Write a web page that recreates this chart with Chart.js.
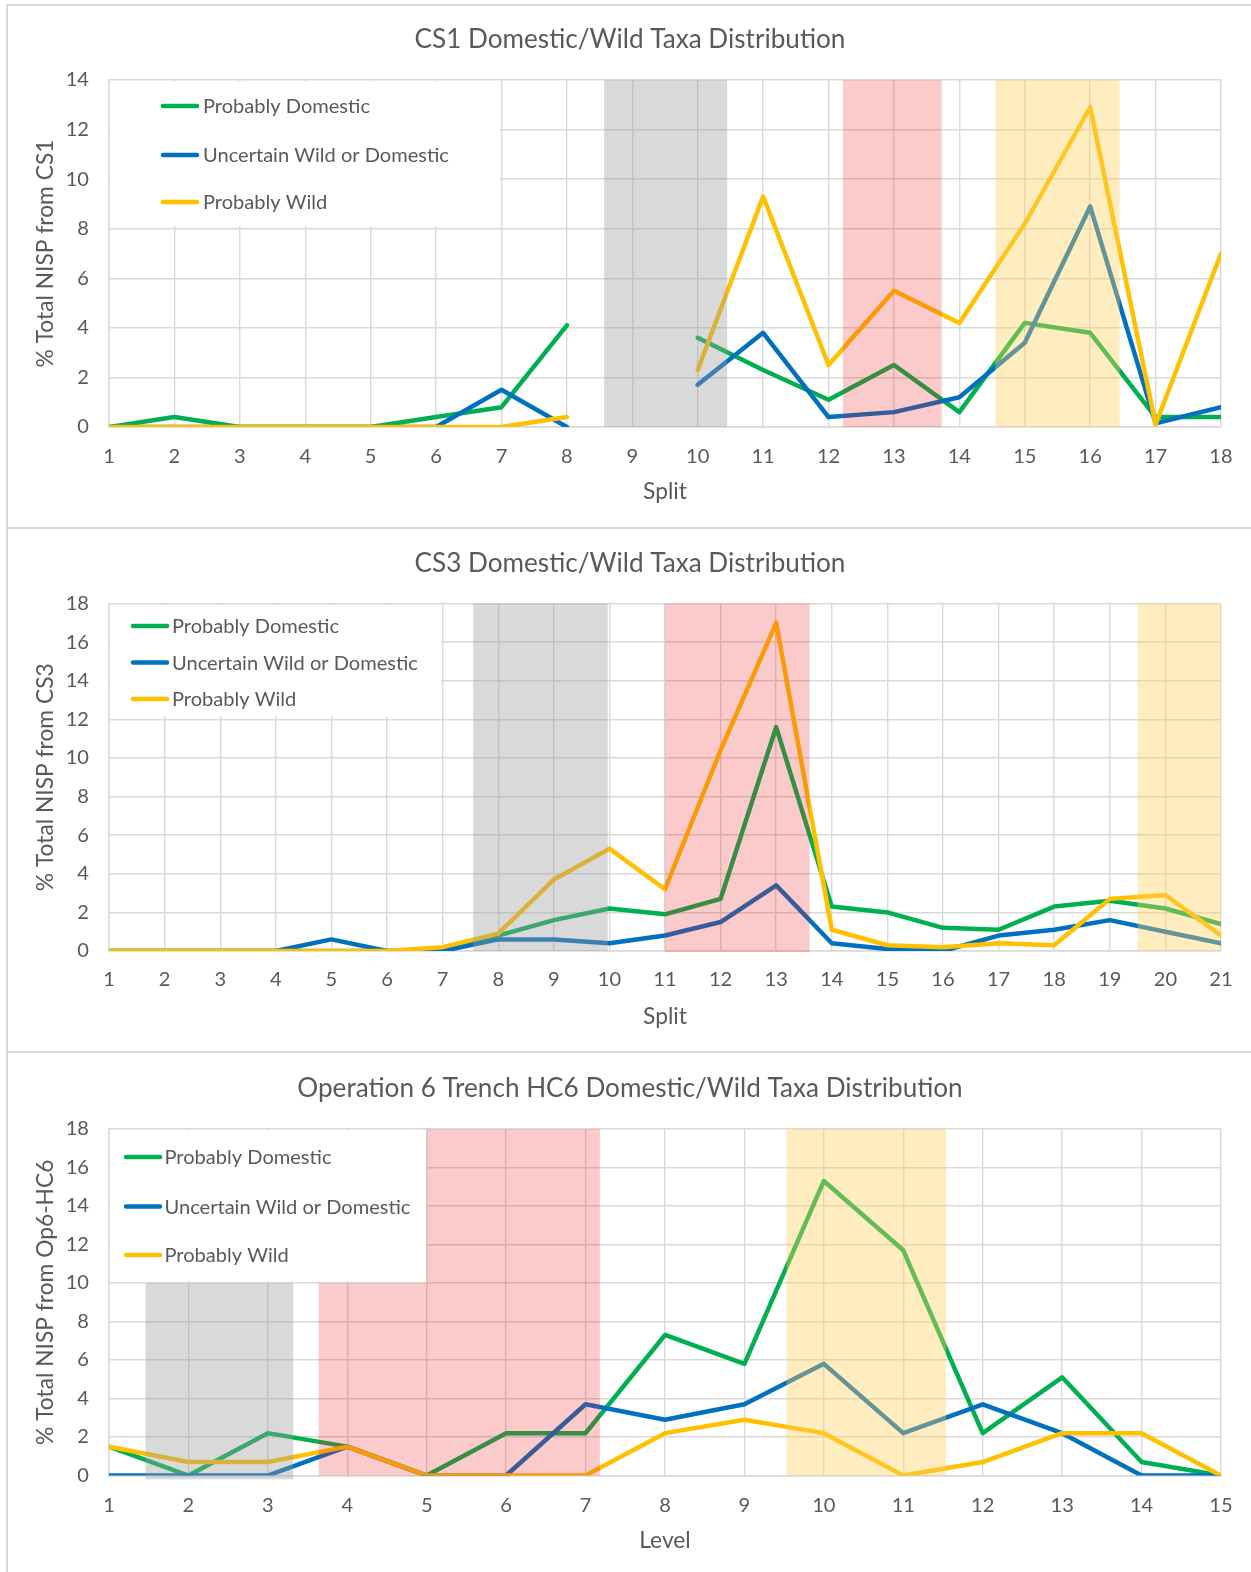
<!DOCTYPE html>
<html><head><meta charset="utf-8">
<script src="https://cdn.jsdelivr.net/npm/chart.js@4.4.1/dist/chart.umd.min.js"></script>
<style>
html,body{margin:0;padding:0;background:#fff;}
body{width:1251px;height:1572px;position:relative;overflow:hidden;}
.frame{position:absolute;left:6px;top:4px;width:1300px;height:1600px;border-left:2px solid #d9d9d9;border-top:2px solid #d9d9d9;}
.sep{position:absolute;left:6px;width:1300px;height:0;border-top:2px solid #d9d9d9;}
canvas{position:absolute;left:8px;}
</style></head><body>
<div class="frame"></div>
<div class="sep" style="top:527px"></div>
<div class="sep" style="top:1051px"></div>
<canvas id="c1"></canvas>
<canvas id="c2"></canvas>
<canvas id="c3"></canvas>
<script>
// ---------------- DATA ----------------
const seriesNames = ['Probably Domestic', 'Uncertain Wild or Domestic', 'Probably Wild'];

const cs1Title = 'CS1 Domestic/Wild Taxa Distribution';
const cs1Splits = [1,2,3,4,5,6,7,8,9,10,11,12,13,14,15,16,17,18];
const cs1Domestic  = [0, 0.4, 0, 0, 0, 0.4, 0.8, 4.1, null, 3.6, 2.3, 1.1, 2.5, 0.6, 4.2, 3.8, 0.4, 0.4];
const cs1Uncertain = [0, 0, 0, 0, 0, 0, 1.5, 0, null, 1.7, 3.8, 0.4, 0.6, 1.2, 3.4, 8.9, 0.15, 0.8];
const cs1Wild      = [0, 0, 0, 0, 0, 0, 0, 0.4, null, 2.3, 9.3, 2.5, 5.5, 4.2, 8.2, 12.9, 0.1, 7.0];
const cs1YTicks = [0, 2, 4, 6, 8, 10, 12, 14];
// shaded ranges: [from split, to split, from %, to %, kind]
const cs1Bands = [[8.57, 10.45, 0, 14, 'gray'], [12.22, 13.73, 0, 14, 'red'], [14.55, 16.45, 0, 14, 'yellow']];

const cs3Title = 'CS3 Domestic/Wild Taxa Distribution';
const cs3Splits = [1,2,3,4,5,6,7,8,9,10,11,12,13,14,15,16,17,18,19,20,21];
const cs3Domestic  = [0, 0, 0, 0, 0, 0, 0, 0.8, 1.6, 2.2, 1.9, 2.7, 11.6, 2.3, 2.0, 1.2, 1.1, 2.3, 2.6, 2.2, 1.4];
const cs3Uncertain = [0, 0, 0, 0, 0.6, 0, 0, 0.6, 0.6, 0.4, 0.8, 1.5, 3.4, 0.4, 0.1, 0, 0.8, 1.1, 1.6, 1.0, 0.4];
const cs3Wild      = [0, 0, 0, 0, 0, 0, 0.2, 0.9, 3.7, 5.3, 3.2, 10.4, 17.0, 1.1, 0.3, 0.2, 0.4, 0.3, 2.7, 2.9, 0.8];
const cs3YTicks = [0, 2, 4, 6, 8, 10, 12, 14, 16, 18];
const cs3Bands = [[7.55, 9.97, 0, 18, 'gray'], [11.0, 13.6, -0.05, 18, 'red'], [19.5, 21, 0, 18, 'yellow']];

const op6Title = 'Operation 6 Trench HC6 Domestic/Wild Taxa Distribution';
const op6Levels = [1,2,3,4,5,6,7,8,9,10,11,12,13,14,15];
const op6Domestic  = [1.5, 0, 2.2, 1.5, 0, 2.2, 2.2, 7.3, 5.8, 15.3, 11.7, 2.2, 5.1, 0.7, 0];
const op6Uncertain = [0, 0, 0, 1.5, 0, 0, 3.7, 2.9, 3.7, 5.8, 2.2, 3.7, 2.2, 0, 0];
const op6Wild      = [1.5, 0.7, 0.7, 1.5, 0, 0, 0, 2.2, 2.9, 2.2, 0, 0.7, 2.2, 2.2, 0];
const op6YTicks = [0, 2, 4, 6, 8, 10, 12, 14, 16, 18];
const op6Bands = [[1.46, 3.32, -0.2, 10, 'gray'], [3.64, 5, 0, 10, 'red'], [5, 7.18, 0, 18, 'red'], [9.53, 11.54, 0, 18, 'yellow']];

// ---------------- STYLE ----------------
const FONT = "Lato, 'Open Sans', sans-serif";
const TEXT = '#595959';
const GRID = '#d9d9d9';
const COLORS = ['#00B050', '#0070C0', '#FFC000'];
const BAND_FILL = {gray: 'rgba(156,156,156,0.38)', red: 'rgba(239,24,26,0.23)', yellow: 'rgba(255,209,89,0.39)'};

const probe = document.createElement('canvas').getContext('2d');
function fit(text, target) { probe.font = '100px ' + FONT; return 100 * target / probe.measureText(text).width; }
const titlePx = fit(cs1Title, 431);
const legendPx = fit('Uncertain Wild or Domestic', 246);
const axisPx = fit('% Total NISP from CS1', 228);
const tickPx = legendPx;

const CANVAS_LEFT = 8, CANVAS_W = 1243;
const PLOT_LEFT = 109, PLOT_RIGHT = 1221;

const overlay = {
  id: 'overlay',
  beforeDatasetsDraw(chart, args, o) {
    const ctx = chart.ctx, a = chart.chartArea, L = o.leg;
    const ox = CANVAS_LEFT, oy = o.top;
    ctx.save();
    ctx.fillStyle = '#fff';
    ctx.fillRect(a.left + 1.5, a.top + 1.5, (L.right - ox) - a.left - 1.5, (L.bottom - oy) - a.top - 1.5);
    ctx.font = legendPx + 'px ' + FONT;
    ctx.textBaseline = 'middle';
    ctx.textAlign = 'left';
    L.ys.forEach((y, i) => {
      ctx.strokeStyle = COLORS[i];
      ctx.lineWidth = 4.5;
      ctx.lineCap = 'round';
      ctx.beginPath();
      ctx.moveTo(L.x0 + 2 - ox, y - oy);
      ctx.lineTo(L.x1 - 2 - ox, y - oy);
      ctx.stroke();
      ctx.fillStyle = TEXT;
      ctx.fillText(seriesNames[i], L.tx - ox, y - oy + 1);
    });
    ctx.restore();
  },
  afterDatasetsDraw(chart, args, o) {
    const ctx = chart.ctx, xs = chart.scales.x, ys = chart.scales.y;
    ctx.save();
    o.bands.forEach(b => {
      const x0 = xs.getPixelForValue(b[0]), x1 = xs.getPixelForValue(b[1]);
      const y0 = ys.getPixelForValue(b[2]), y1 = ys.getPixelForValue(b[3]);
      ctx.fillStyle = BAND_FILL[b[4]];
      ctx.fillRect(x0, y1, x1 - x0, y0 - y1);
    });
    ctx.restore();
  },
  afterDraw(chart, args, o) {
    const ctx = chart.ctx;
    ctx.save();
    ctx.font = titlePx + 'px ' + FONT;
    ctx.fillStyle = TEXT;
    ctx.textAlign = 'center';
    ctx.textBaseline = 'middle';
    ctx.fillText(o.title, 630 - CANVAS_LEFT, o.titleY - o.top);
    ctx.restore();
  }
};

function makeChart(id, g) {
  const cv = document.getElementById(id);
  const H = g.bottomEdge - g.top;
  cv.width = CANVAS_W; cv.height = H;
  cv.style.width = CANVAS_W + 'px'; cv.style.height = H + 'px';
  cv.style.top = g.top + 'px';
  const ds = [g.dom, g.unc, g.wild].map((d, i) => ({
    label: seriesNames[i], data: d, borderColor: COLORS[i], backgroundColor: COLORS[i],
    borderWidth: 4.5, pointRadius: 0, pointHoverRadius: 0, tension: 0, fill: false,
    spanGaps: false, borderCapStyle: 'round', borderJoinStyle: 'round', order: 3 - i
  }));
  return new Chart(cv, {
    type: 'line',
    data: {labels: g.cats, datasets: ds},
    options: {
      responsive: false, animation: false, devicePixelRatio: 1,
      layout: {padding: {left: 0, top: g.plotTop - g.top, right: (CANVAS_LEFT + CANVAS_W) - PLOT_RIGHT, bottom: 0}},
      plugins: {
        legend: {display: false}, tooltip: {enabled: false}, title: {display: false},
        overlay: {top: g.top, title: g.title, titleY: g.titleY, leg: g.leg, bands: g.bands}
      },
      scales: {
        x: {
          type: 'linear', min: g.cats[0], max: g.cats[g.cats.length - 1],
          afterFit: s => { s.height = g.bottomEdge - g.plotBottom; },
          afterBuildTicks: s => { s.ticks = g.cats.map(v => ({value: v})); },
          ticks: {color: TEXT, font: {family: FONT, size: tickPx}, padding: g.xTickPad, maxRotation: 0, autoSkip: false},
          grid: {color: GRID, lineWidth: 1.4, drawTicks: false},
          border: {color: GRID, width: 1.4},
          title: {display: true, text: g.xTitle, color: TEXT, font: {family: FONT, size: axisPx},
                  padding: {top: 0, bottom: (g.bottomEdge - g.xTitleY) - axisPx * 0.6}}
        },
        y: {
          type: 'linear', min: 0, max: g.yTicks[g.yTicks.length - 1],
          afterFit: s => { s.width = PLOT_LEFT - CANVAS_LEFT; },
          afterBuildTicks: s => { s.ticks = g.yTicks.map(v => ({value: v})); },
          ticks: {color: TEXT, font: {family: FONT, size: tickPx}, padding: 20},
          grid: {color: GRID, lineWidth: 1.4, drawTicks: false},
          border: {color: GRID, width: 1.4},
          title: {display: true, text: g.yTitle, color: TEXT, font: {family: FONT, size: axisPx},
                  padding: {top: (46 - CANVAS_LEFT) - axisPx * 0.6, bottom: 0}}
        }
      }
    },
    plugins: [overlay]
  });
}

makeChart('c1', {
  top: 6, bottomEdge: 527, plotTop: 80, plotBottom: 427, titleY: 40, xTitleY: 492, xTickPad: 17,
  title: cs1Title, xTitle: 'Split', yTitle: '% Total NISP from CS1',
  cats: cs1Splits, dom: cs1Domestic, unc: cs1Uncertain, wild: cs1Wild, yTicks: cs1YTicks, bands: cs1Bands,
  leg: {right: 500, bottom: 226, ys: [106, 155, 202], x0: 161, x1: 199, tx: 203}
});
makeChart('c2', {
  top: 529, bottomEdge: 1051, plotTop: 603.5, plotBottom: 951, titleY: 563.5, xTitleY: 1017, xTickPad: 16.5,
  title: cs3Title, xTitle: 'Split', yTitle: '% Total NISP from CS3',
  cats: cs3Splits, dom: cs3Domestic, unc: cs3Uncertain, wild: cs3Wild, yTicks: cs3YTicks, bands: cs3Bands,
  leg: {right: 441, bottom: 716, ys: [626, 662.5, 699], x0: 131, x1: 169, tx: 172}
});
makeChart('c3', {
  top: 1053, bottomEdge: 1572, plotTop: 1129, plotBottom: 1475.5, titleY: 1088.5, xTitleY: 1540.5, xTickPad: 18,
  title: op6Title, xTitle: 'Level', yTitle: '% Total NISP from Op6-HC6',
  cats: op6Levels, dom: op6Domestic, unc: op6Uncertain, wild: op6Wild, yTicks: op6YTicks, bands: op6Bands,
  leg: {right: 426, bottom: 1281, ys: [1157, 1206.5, 1255], x0: 124, x1: 162, tx: 164.5}
});
</script>
</body></html>
